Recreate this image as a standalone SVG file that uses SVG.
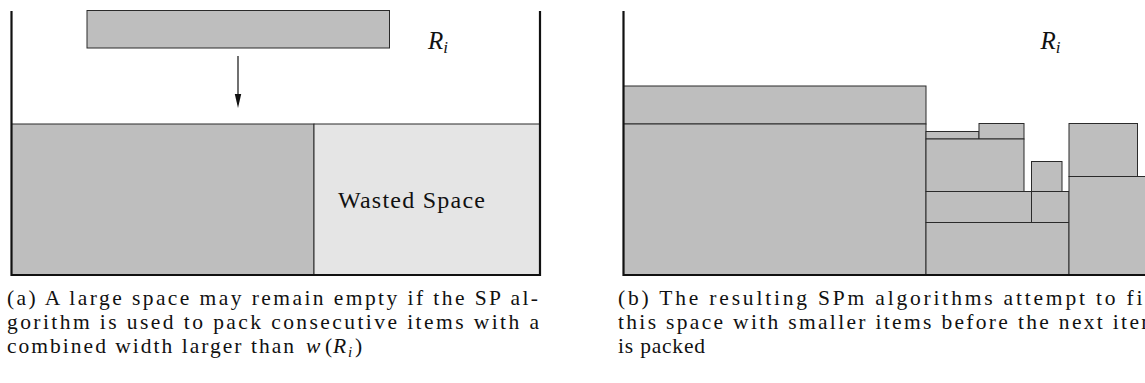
<svg xmlns="http://www.w3.org/2000/svg" width="1145" height="383" viewBox="0 0 1145 383">
<style>
.item{fill:#bebebe;stroke:#2a2a2a;stroke-width:1}
.waste{fill:#e5e5e5;stroke:#2a2a2a;stroke-width:1}
.wall{fill:none;stroke:#111;stroke-width:2.2}
.serif{font-family:'Liberation Serif','Times New Roman',serif;fill:#111}
.cap{font-size:21.5px}
.math{font-style:italic}
</style>

<!-- Panel (a) -->
<g id="a-bottom-item"><rect class="item" x="11.5" y="124" width="302.5" height="151"/></g>
<g id="a-wasted"><rect class="waste" x="314" y="124" width="226" height="151"/>
<text class="serif" x="338" y="207.5" font-size="24" textLength="147" lengthAdjust="spacing">Wasted Space</text></g>
<g id="a-falling-item"><rect class="item" x="87" y="10.5" width="302.5" height="37.5"/></g>
<g id="a-bin"><path class="wall" d="M11.5,11 V275 H540 V11"/></g>
<g id="a-label"><text class="serif math" x="428" y="49" font-size="25">R<tspan font-size="17" dy="4">i</tspan></text></g>
<g id="connectors">
<line x1="238" y1="56" x2="238" y2="96" stroke="#111" stroke-width="1.2"/>
<path d="M234.8,94 L241.2,94 L238,108 Z" fill="#111"/>
</g>

<!-- Panel (b) -->
<g id="b-big-top"><rect class="item" x="623.5" y="86" width="302.5" height="38"/></g>
<g id="b-big-bottom"><rect class="item" x="623.5" y="124" width="302.5" height="151"/></g>
<g id="b-thin"><rect class="item" x="926" y="131.5" width="53" height="7.5"/></g>
<g id="b-small"><rect class="item" x="979" y="123.5" width="45" height="15.5"/></g>
<g id="b-middle"><rect class="item" x="926" y="139" width="98" height="52.5"/></g>
<g id="b-square"><rect class="item" x="1031.5" y="161.5" width="30.5" height="30"/></g>
<g id="b-row-left"><rect class="item" x="926" y="191.5" width="105.5" height="31"/></g>
<g id="b-row-right"><rect class="item" x="1031.5" y="191.5" width="37.5" height="31"/></g>
<g id="b-bottom"><rect class="item" x="926" y="222.5" width="143" height="52.5"/></g>
<g id="b-upper-right"><rect class="item" x="1069" y="123.5" width="68.5" height="53"/></g>
<g id="b-right-tall"><rect class="item" x="1069" y="176.5" width="90" height="98.5"/></g>
<g id="b-bin"><path class="wall" d="M623.5,11 V275 H1150"/></g>
<g id="b-label"><text class="serif math" x="1040.5" y="49" font-size="25">R<tspan font-size="17" dy="4">i</tspan></text></g>

<!-- Captions -->
<g id="caption-a">
<text class="serif cap" x="7" y="305" textLength="531" lengthAdjust="spacing">(a) A large space may remain empty if the SP al-</text>
<text class="serif cap" x="7" y="329" textLength="532" lengthAdjust="spacing">gorithm is used to pack consecutive items with a</text>
<text class="serif cap" x="7" y="353" textLength="287" lengthAdjust="spacing">combined width larger than</text>
<text class="serif cap" x="306" y="353"><tspan class="math">w</tspan><tspan x="325">(</tspan><tspan class="math" x="333">R</tspan><tspan class="math" font-size="15" x="348" dy="4">i</tspan><tspan x="355" dy="-4">)</tspan></text>
</g>
<g id="caption-b">
<text class="serif cap" x="618" y="305" textLength="542" lengthAdjust="spacing">(b) The resulting SPm algorithms attempt to fill</text>
<text class="serif cap" x="618" y="329" textLength="540" lengthAdjust="spacing">this space with smaller items before the next item</text>
<text class="serif cap" x="618" y="353" textLength="87" lengthAdjust="spacing">is packed</text>
</g>
</svg>
